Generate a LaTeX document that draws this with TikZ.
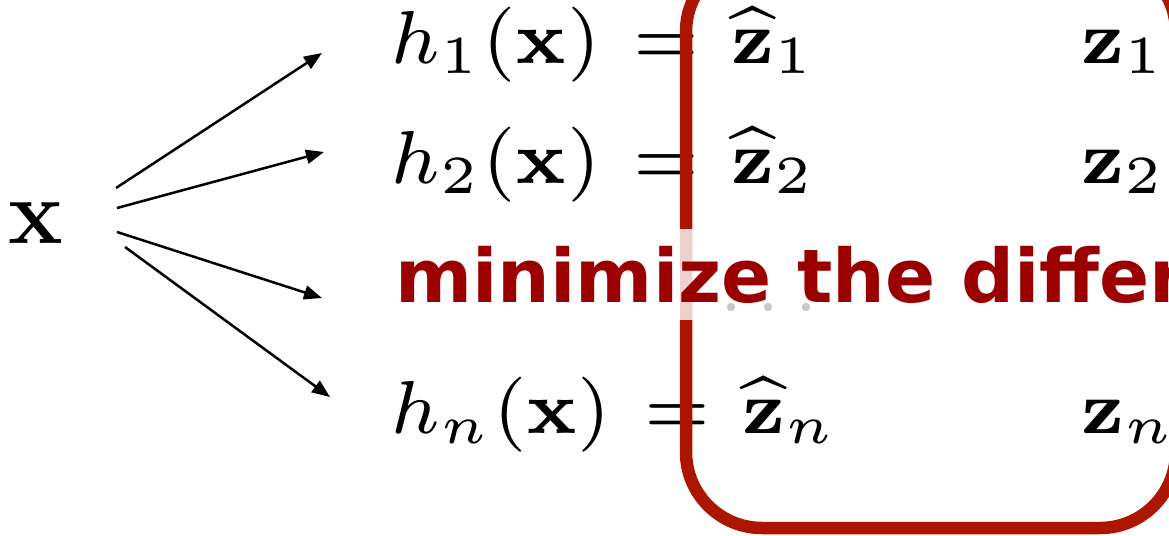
\RequirePackage{fix-cm}
\documentclass[tikz,border=0pt]{standalone}
\usepackage{amsmath}
\usepackage{graphicx}
\usepackage[no-math]{fontspec}
\newfontfamily\verd{DejaVu Sans}
\usetikzlibrary{arrows.meta}
\definecolor{boxred}{RGB}{172,22,0}
\definecolor{txtred}{RGB}{155,0,0}
\definecolor{dotgray}{RGB}{200,200,200}
\newcommand{\bigeq}[1]{\scalebox{5.36}{\fontsize{7}{8.4}\selectfont$#1$}}
\newcommand{\eqsign}{\mkern1.8mu=\mkern1.5mu}
\tikzset{
  eqn/.style={inner sep=0pt, anchor=base west},
  fan/.style={line width=1.25pt, -{Triangle[length=9pt,width=7pt]}},
  roundbox/.style={draw=boxred, line width=6.25pt, rounded corners=38pt},
  slogan/.style={anchor=base west, inner sep=8.5pt, fill=white, fill opacity=0.8, text opacity=1,
    text=txtred, font=\fontsize{37}{45}\selectfont\verd\bfseries},
  dotmark/.style={fill=dotgray, draw=none}
}
\begin{document}
\begin{tikzpicture}[x=0.5pt,y=-0.5pt]
\useasboundingbox (0,0) rectangle (1169,536);
\clip (0,0) rectangle (1169,536);
% input
\node[inner sep=0pt, anchor=base west, font=\fontsize{46}{55}\selectfont] (x) at (8,243) {$\mathbf{x}$};
% equations
\node[eqn] (h1) at (390,63) {\bigeq{h_1(\mathbf{x}) \eqsign \widehat{\mathbf{z}}_1}};
\node[eqn] (h2) at (390,183) {\bigeq{h_2(\mathbf{x}) \eqsign \widehat{\mathbf{z}}_2}};
\node[eqn] (hn) at (390,433) {\bigeq{h_n(\mathbf{x}) \eqsign \widehat{\mathbf{z}}_n}};
\node[eqn] (z1) at (1081,63) {\bigeq{\mathbf{z}_1}};
\node[eqn] (z2) at (1081,183) {\bigeq{\mathbf{z}_2}};
\node[eqn] (zn) at (1081,433) {\bigeq{\mathbf{z}_n}};
% arrow end points
\coordinate (s1) at (116,188); \coordinate (e1) at (322,53);
\coordinate (s2) at (117,208); \coordinate (e2) at (324,152);
\coordinate (s3) at (117,232); \coordinate (e3) at (322,298);
\coordinate (s4) at (125,247); \coordinate (e4) at (330,397);
\draw[fan] (s1) -- (e1);
\draw[fan] (s2) -- (e2);
\draw[fan] (s3) -- (e3);
\draw[fan] (s4) -- (e4);
% box
\draw[roundbox] (686,-44) rectangle (1176,528);
% slogan
\node[slogan] (msg) at (378,302) {minimize the difference};
% dots
\fill[dotmark] (731,307) circle (4.2);
\fill[dotmark] (768,307) circle (4.2);
\fill[dotmark] (806,307) circle (4.2);
\end{tikzpicture}
\end{document}
